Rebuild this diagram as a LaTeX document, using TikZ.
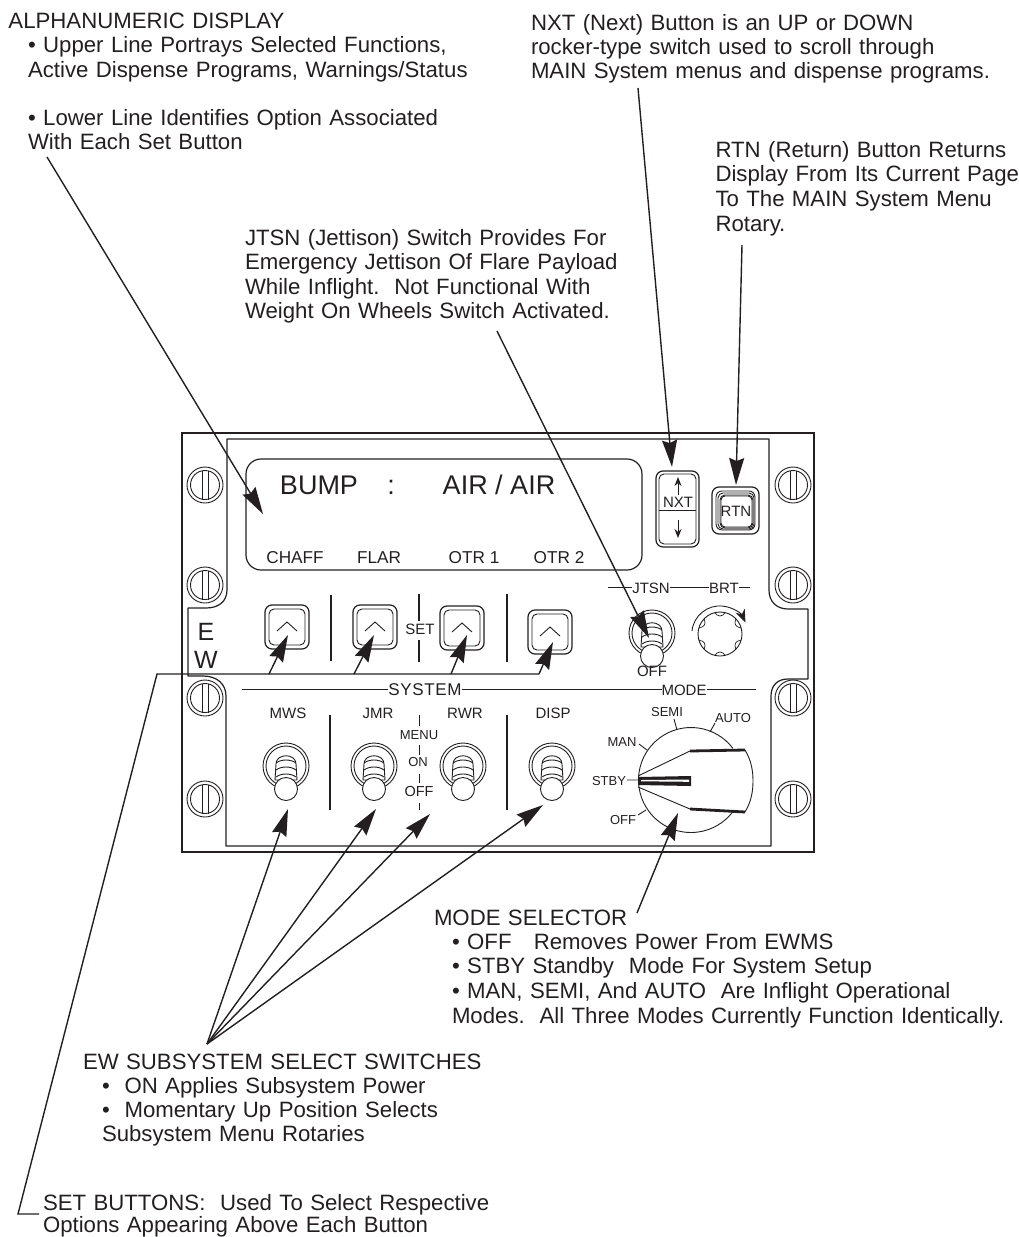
\documentclass[tikz,border=0pt]{standalone}
\usepackage{fontspec}
\setmainfont{Liberation Sans}
\usetikzlibrary{arrows.meta,calc}
\definecolor{ink}{HTML}{231F20}
\newcommand{\fs}[1]{\fontsize{#1}{#1}\selectfont}
\tikzset{
  x=1pt,y=-1pt,
  every node/.style={text=ink,inner sep=0pt,outer sep=0pt},
  line/.style={draw=ink,line width=1.2pt},
  thin line/.style={draw=ink,line width=0.9pt},
  leader/.style={draw=ink,line width=1.4pt,-{Stealth[length=27pt,width=15pt,inset=3pt]}},
  plainleader/.style={draw=ink,line width=1.4pt},
  note/.style={anchor=base west,align=left,font=\fs{22.2},text width=600pt},
  lab/.style={font=\fs{15}},
  small/.style={font=\fs{13}},
  screw/.pic={
    \draw[thin line,fill=white] (0,0) circle[radius=18pt];
    \draw[thin line] (0,0) circle[radius=14.5pt];
    \draw[thin line] (-3,-14.5) -- (-3,14.5) (3,-14.5) -- (3,14.5);
  },
  setbtn/.pic={
    \draw[line,rounded corners=7pt] (-22,-22) rectangle (22,22);
    \draw[thin line,rounded corners=5pt] (-18,-18) rectangle (18,18);
    \draw[thin line] (-10,4) -- (0,-5) -- (10,4);
  },
  togglesw/.pic={
    \draw[thin line] (0,0) circle[radius=23pt];
    \draw[thin line] (0,0) circle[radius=20pt];
    \draw[thin line,fill=white] (-11,14) -- (-10,-2) .. controls (-10,-13) and (10,-13) .. (10,-2) -- (11,14) -- cycle;
    \draw[thin line] (-10,-3) .. controls (-5,-7) and (5,-7) .. (10,-3);
    \draw[thin line] (-10,4) .. controls (-5,0) and (5,0) .. (10,4);
    \draw[thin line] (-10,11) .. controls (-5,7) and (5,7) .. (10,11);
    \draw[thin line,fill=white] (0,23) circle[radius=11.5pt];
  }
}
\begin{document}
\begin{tikzpicture}
\useasboundingbox (0,0) rectangle (1019,1237);
% panel
\draw[line] (182,433) rectangle (814,852);
\draw[line,line join=round] (227,439) -- (227,590) .. controls (227,602) and (218,608) .. (206,608) -- (188,608) -- (188,676) -- (203,676)
  .. controls (217,676) and (226,684) .. (226,696) -- (226,846) -- (771,846) -- (771,696)
  .. controls (771,686) and (777,679) .. (788,679) -- (808,679) -- (808,609) -- (788,609)
  .. controls (777,609) and (769,602) .. (769,590) -- (769,439) -- cycle;
\foreach \sx in {205,793}{\foreach \sy in {485,585,698,799}{\path (\sx,\sy) pic {screw};}}
% display
\draw[line,rounded corners=15pt] (246,459) rectangle (642,570);
\node[font=\fs{27},anchor=base] (bump) at (319,494) {BUMP};
\node[font=\fs{27},anchor=base] (colon) at (391,494) {:};
\node[font=\fs{27},anchor=base] (airair) at (499,494) {AIR / AIR};
\node[font=\fs{17.2},anchor=base] (chaff) at (295,563) {CHAFF};
\node[font=\fs{17.2},anchor=base] (flar) at (379,563) {FLAR};
\node[font=\fs{17.2},anchor=base] (otra) at (474,563) {OTR 1};
\node[font=\fs{17.2},anchor=base] (otrb) at (559,563) {OTR 2};
% set row
\node[font=\fs{25},anchor=base] (e) at (206,640) {E};
\node[font=\fs{25},anchor=base] (w) at (206,668) {W};
\path (287,627) pic {setbtn} (375,627) pic {setbtn} (462,628) pic {setbtn} (550,632) pic {setbtn};
\draw[line] (331,595) -- (331,661) (507,594) -- (507,662);
\draw[line] (419,594) -- (419,621) (419,640) -- (419,662);
\node[lab,anchor=base] (setlab) at (420,634) {SET};
% NXT
\draw[line,rounded corners=7pt] (656,471) rectangle (699,547);
\draw[thin line,rounded corners=5pt] (659,474) rectangle (696,544);
\draw[thin line] (659,510) -- (696,510);
\node[lab,anchor=base] (nxt) at (678,507) {NXT};
\draw[thin line,-{Stealth[length=9pt,width=7pt]}] (678,495) -- (678,477);
\draw[thin line,-{Stealth[length=9pt,width=7pt]}] (678,520) -- (678,538);
% RTN
\draw[line,rounded corners=7pt] (712,487) rectangle (759,534);
\draw[thin line,rounded corners=6pt] (716,491) rectangle (755,530);
\draw[thin line,rounded corners=5pt] (718,493) rectangle (754,529);
\draw[thin line,rounded corners=5pt] (720,495) rectangle (753,528);
\draw[thin line,rounded corners=4pt] (721,496) rectangle (752,527);
\node[lab,anchor=base] (rtn) at (736,516) {RTN};
% JTSN / BRT
\node[lab,anchor=base] (jtsn) at (651,593) {JTSN};
\node[lab,anchor=base] (brt) at (724,593) {BRT};
\draw[thin line] (608,587) -- (jtsn.west |- 608,587) (jtsn.east |- 608,587) -- (brt.west |- 608,587) (brt.east |- 608,587) -- (750,587);
\path (652,633) pic {togglesw};
\node[lab,anchor=base] (joff) at (652,676) {OFF};
% brightness knob
\coordinate (knob) at (720,634);
\draw[thin line] (knob) circle[radius=22pt];
\foreach \a in {30,90,...,330}{
  \draw[draw=ink,line width=0.7pt] ($(knob)+(\a-14:22pt)$) .. controls ($(knob)+(\a-6:17pt)$) and ($(knob)+(\a+6:17pt)$) .. ($(knob)+(\a+14:22pt)$);}
\draw[thin line,-{Stealth[length=13pt,width=10pt]}] (692,631) arc[start angle=174,end angle=24,radius=28pt];
% system / mode headings
\node[font=\fs{17},anchor=base] (system) at (425,695) {\addfontfeature{LetterSpace=4}SYSTEM};
\node[lab,anchor=base] (mode) at (684,695) {MODE};
\draw[thin line] (242,689) -- (system.west |- 242,689) (system.east |- 242,689) -- (mode.west |- 242,689) (mode.east |- 242,689) -- (756,689);
\node[lab,anchor=base] (mws) at (288,718) {MWS};
\node[lab,anchor=base] (jmr) at (378,718) {JMR};
\node[lab,anchor=base] (rwr) at (465,718) {RWR};
\node[lab,anchor=base] (disp) at (553,718) {DISP};
\draw[line] (330,715) -- (330,810) (507,715) -- (507,810);
\draw[thin line] (419,715) -- (419,726) (419,745) -- (419,755) (419,774) -- (419,783) (419,803) -- (419,810);
\node[small,anchor=base] (menu) at (419,739) {MENU};
\node[small,anchor=base] (on) at (418,766) {ON};
\node[font=\fs{14.5},anchor=base] (off) at (419,796) {OFF};
\path (286,766) pic {togglesw} (374,766) pic {togglesw} (463,766) pic {togglesw} (552,766) pic {togglesw};
% mode selector
\coordinate (mk) at (691,780);
\draw[thin line] ($(mk)+(37:52.5pt)$) arc[start angle=37,end angle=323,radius=52.5pt];
\draw[thin line,line join=round] (638,776) -- (690,751);
\draw[draw=ink,line width=2.8pt] (690,751) -- (745,750);
\draw[thin line] (745,750) .. controls (751,760) and (753,770) .. (753,781) .. controls (753,792) and (751,802) .. (745,812);
\draw[draw=ink,line width=2.8pt] (745,812) -- (690,809);
\draw[thin line] (690,809) -- (638,787);
\path[fill=ink] (638,777) -- (691,776) -- (691,786) -- (638,785) -- cycle;
\path[fill=white] (641,780) -- (689,779.5) -- (689,781.8) -- (641,781.3) -- cycle;
\node[small,anchor=base] (stby) at (609,785) {STBY};
\node[small,anchor=base] (man) at (622,746) {MAN};
\node[small,anchor=base] (semi) at (667,716) {SEMI};
\node[small,anchor=base] (auto) at (733,722) {AUTO};
\node[small,anchor=base] (moff) at (623,824) {OFF};
\draw[thin line] (627,780) -- (638,780) (639,744) -- (647,750) (674,719) -- (677,730) (715,723) -- (710,732) (638,815) -- (646,810);
% notes
\node[note] (n1) at (8.5,28) {ALPHANUMERIC DISPLAY};
\node[note] (n2) at (28,52.5) {\textbullet\ Upper Line Portrays Selected Functions,};
\node[note] (n3) at (28,77) {Active Dispense Programs, Warnings/Status};
\node[note] (n4) at (28,125) {\textbullet\ Lower Line Identifies Option Associated};
\node[note] (n5) at (28,149.5) {With Each Set Button};
\node[note] (n6) at (531,30) {NXT (Next) Button is an UP or DOWN};
\node[note] (n7) at (531,54) {rocker-type switch used to scroll through};
\node[note] (n8) at (531,78) {MAIN System menus and dispense programs.};
\node[note] (n9) at (715.5,157) {RTN (Return) Button Returns};
\node[note] (n10) at (715.5,181.5) {Display From Its Current Page};
\node[note] (n11) at (715.5,206) {To The MAIN System Menu};
\node[note] (n12) at (715.5,231) {Rotary.};
\node[note] (n13) at (245,245) {JTSN (Jettison) Switch Provides For};
\node[note] (n14) at (245,269.5) {Emergency Jettison Of Flare Payload};
\node[note] (n15) at (245,294) {While Inflight.\ \ Not Functional With};
\node[note] (n16) at (245,318.5) {Weight On Wheels Switch Activated.};
\node[note] (n17) at (434,925) {MODE SELECTOR};
\node[note] (n18) at (452,949) {\textbullet\ OFF\ \ \ Removes Power From EWMS};
\node[note] (n19) at (452,973) {\textbullet\ STBY Standby\ \ Mode For System Setup};
\node[note] (n20) at (452,998) {\textbullet\ MAN, SEMI, And AUTO\ \ Are Inflight Operational};
\node[note] (n21) at (452,1023) {Modes.\ \ All Three Modes Currently Function Identically.};
\node[note] (n22) at (83,1069) {EW SUBSYSTEM SELECT SWITCHES};
\node[note] (n23) at (102,1093) {\textbullet\ \ ON Applies Subsystem Power};
\node[note] (n24) at (102,1117) {\textbullet\ \ Momentary Up Position Selects};
\node[note] (n25) at (102,1141) {Subsystem Menu Rotaries};
\node[note] (n26) at (43,1210) {SET BUTTONS:\ \ Used To Select Respective};
\node[note] (n27) at (43,1232) {Options Appearing Above Each Button};
% leaders
\coordinate (a0) at (47,157); \coordinate (a1) at (263,514);
\draw[leader] (a0) -- (a1);
\coordinate (j0) at (497,331); \coordinate (j1) at (649,638);
\draw[leader] (j0) -- (j1);
\coordinate (x0) at (638,88); \coordinate (x1) at (672,467);
\draw[leader] (x0) -- (x1);
\coordinate (r0) at (742,245); \coordinate (r1) at (736,485);
\draw[leader] (r0) -- (r1);
\coordinate (m0) at (637,913); \coordinate (m1) at (678,813);
\draw[leader] (m0) -- (m1);
\coordinate (ew) at (207,1044);
\coordinate (ew1) at (288,809); \coordinate (ew2) at (376,809); \coordinate (ew3) at (430,814); \coordinate (ew4) at (543,805);
\draw[leader] (ew) -- (ew1);
\draw[leader] (ew) -- (ew2);
\draw[leader] (ew) -- (ew3);
\draw[leader] (ew) -- (ew4);
\coordinate (s0) at (39,1214); \coordinate (s1) at (18,1214); \coordinate (s2) at (157,674); \coordinate (s3) at (539,674);
\draw[plainleader,line join=miter] (s0) -- (s1) -- (s2) -- (s3);
\coordinate (b1) at (269,674); \coordinate (b2) at (354,674); \coordinate (b3) at (451,674);
\coordinate (t1) at (288,635); \coordinate (t2) at (374,635); \coordinate (t3) at (467,635); \coordinate (t4) at (553,642);
\draw[leader] (b1) -- (t1);
\draw[leader] (b2) -- (t2);
\draw[leader] (b3) -- (t3);
\draw[leader] (s3) -- (t4);
\end{tikzpicture}
\end{document}
